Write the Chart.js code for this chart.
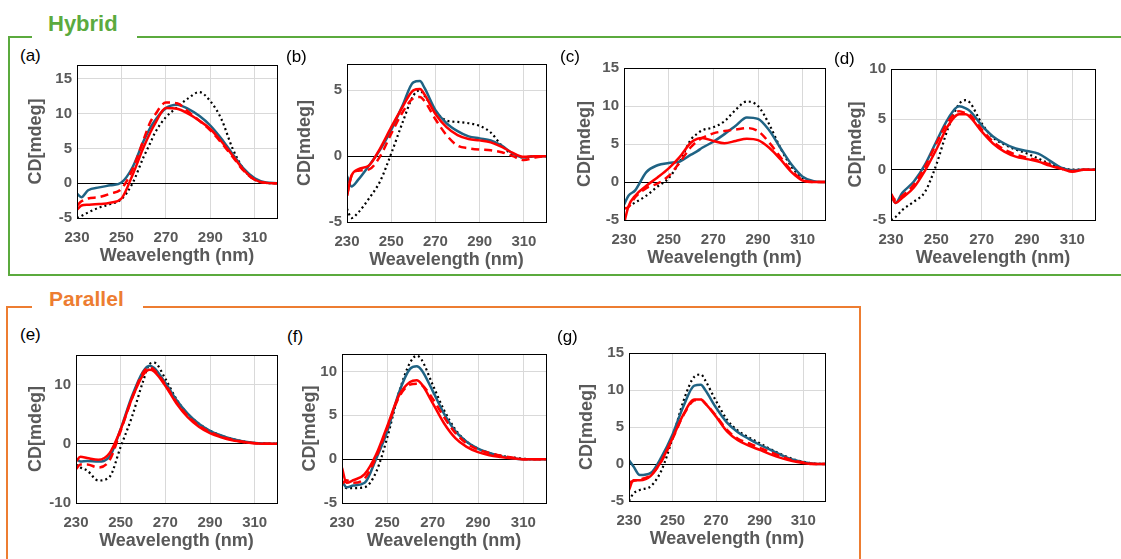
<!DOCTYPE html>
<html><head><meta charset="utf-8">
<script src="https://cdn.jsdelivr.net/npm/chart.js@4/dist/chart.umd.min.js"></script>
<style>
body{margin:0;background:#fff;}
#root{position:relative;width:1121px;height:559px;overflow:hidden;background:#fff;font-family:"Liberation Sans",Arial,sans-serif;}
.ln{position:absolute;}
.grp{position:absolute;font-weight:bold;white-space:nowrap;}
.pl{position:absolute;font-size:17px;line-height:17px;color:#000;white-space:nowrap;}
canvas{position:absolute;}
</style></head>
<body><div id="root"></div>
<script>
const wavelengths = [230,232,235,240,245,250,255,260,263,265,270,275,280,285,290,295,300,305,310,315,320];
const xTicks = [230,250,270,290,310];

const aBlue    = [-1.5,-2.0,-1.0,-0.6,-0.3,0.1,2.3,6.1,8.0,9.0,10.8,11.3,10.7,9.7,8.3,6.4,4.2,2.1,0.7,0.1,0];
const aRed     = [-3.8,-3.2,-3.1,-3.0,-2.8,-2.2,1.2,5.2,7.3,8.5,10.8,10.7,10.0,9.0,7.8,6.0,4.0,1.9,0.5,0.05,0];
const aRedDash = [-3.2,-2.6,-2.2,-2.0,-1.5,-0.8,2.0,6.3,8.8,9.8,11.6,11.5,10.3,9.0,7.6,5.8,3.8,1.8,0.5,0.05,0];
const aBlack   = [-5.0,-4.7,-4.2,-3.5,-3.0,-2.3,0.0,3.8,5.8,7.2,9.5,10.9,12.2,13.1,11.8,9.2,5.0,2.0,0.5,0.05,0];
const aYTicks  = [-5,0,5,10,15];

const bBlue    = [-1.5,-2.3,-1.8,-0.7,0.5,2.0,3.8,5.6,5.7,5.2,3.5,2.5,1.9,1.5,1.35,1.2,0.8,0.2,-0.1,0,0];
const bRed     = [-3.0,-1.5,-1.0,-0.7,0.6,2.2,3.7,5.0,5.1,4.7,3.2,2.2,1.6,1.3,1.2,1.05,0.7,0.25,-0.05,0,0];
const bRedDash = [-3.0,-1.5,-1.1,-1.0,0.0,1.7,3.3,4.4,4.5,4.2,2.8,1.6,0.8,0.6,0.5,0.45,0.3,0.0,-0.3,-0.1,0];
const bBlack   = [-4.0,-4.7,-4.3,-3.2,-1.9,0.2,2.5,4.6,5.0,4.6,3.4,2.7,2.6,2.5,2.3,1.8,0.8,0.1,-0.1,0,0];
const bYTicks  = [-5,0,5];

const cBlue    = [-3.0,-1.8,-1.1,1.3,2.2,2.5,2.7,3.6,4.1,4.5,5.3,6.3,7.4,8.5,8.3,6.8,4.5,2.3,0.7,0.1,0];
const cRed     = [-5.5,-3.2,-1.8,-0.5,0.6,1.8,3.3,5.2,5.7,5.8,5.4,5.1,5.4,5.7,5.5,4.5,3.0,1.3,0.2,0,0];
const cRedDash = [-3.5,-3.3,-2.0,-0.8,-0.2,0.8,2.6,4.6,5.4,5.8,6.4,6.7,6.9,7.1,6.7,5.2,3.3,1.5,0.3,0,0];
const cBlack   = [-3.5,-3.2,-2.7,-1.8,-0.6,0.5,2.7,5.6,6.4,6.8,7.2,8.0,9.5,10.6,10.0,7.6,4.5,2.0,0.5,0,0];
const cYTicks  = [-5,0,5,10,15];

const dBlue    = [-2.5,-3.3,-2.3,-1.2,0.5,2.8,5.0,6.3,6.1,5.8,4.4,3.3,2.6,2.1,1.85,1.6,0.9,0.2,-0.05,0,0];
const dRed     = [-2.5,-3.3,-2.8,-1.8,-0.1,2.0,4.3,5.5,5.5,5.2,3.8,2.6,1.8,1.3,1.05,0.8,0.4,0.1,-0.2,0,0];
const dRedDash = [-2.4,-3.0,-2.6,-1.5,0.3,2.6,4.7,5.8,5.6,5.4,4.0,2.8,2.0,1.5,1.2,0.9,0.5,0.1,-0.15,0,0];
const dBlack   = [-5.0,-4.7,-4.0,-3.2,-2.2,0.5,4.0,6.5,6.9,6.6,4.6,3.2,2.5,2.0,1.6,1.1,0.6,0.2,0,0,0];
const dYTicks  = [-5,0,5,10];

const eBlue    = [-2.5,-3.0,-2.9,-3.0,-2.2,2.5,8.0,12.2,13.2,12.8,10.3,7.4,5.1,3.4,2.2,1.4,0.8,0.4,0.15,0.05,0];
const eRed     = [-3.0,-2.2,-2.4,-2.7,-1.6,2.4,7.6,11.6,12.5,12.2,9.8,6.8,4.5,2.9,1.8,1.1,0.6,0.3,0.1,0,0];
const eRedDash = [-4.3,-3.5,-3.5,-4.0,-2.8,2.2,7.6,12.0,12.9,12.5,10.0,7.0,4.7,3.1,2.0,1.2,0.7,0.3,0.1,0,0];
const eBlack   = [-3.5,-4.0,-4.5,-6.2,-5.6,-0.5,4.5,10.5,13.5,13.7,11.0,7.5,5.0,3.4,2.2,1.4,0.8,0.4,0.15,0.05,0];
const eYTicks  = [-10,0,10];

const fBlue    = [-2.5,-3.2,-3.0,-2.7,0.0,3.2,7.5,10.3,10.6,10.2,7.8,5.2,3.2,2.0,1.2,0.7,0.35,0.1,0,0,0];
const fRed     = [-1.0,-2.7,-2.4,-1.7,0.5,3.8,7.2,8.8,9.0,8.6,6.4,4.1,2.4,1.4,0.8,0.45,0.25,0.1,0,0,0];
const fRedDash = [-2.8,-2.4,-2.7,-2.2,0.2,3.6,7.0,8.5,8.6,8.5,6.9,4.8,3.0,1.8,1.1,0.7,0.4,0.2,0,0,0];
const fBlack   = [-2.8,-3.3,-3.3,-3.2,-1.5,2.5,7.5,11.0,11.8,11.4,8.5,5.6,3.4,2.0,1.2,0.7,0.4,0.2,0.05,0,0];
const fYTicks  = [-5,0,5,10];

const gBlue    = [0.5,-0.3,-1.5,-1.2,1.0,4.0,7.8,10.6,10.7,10.0,7.6,5.6,4.3,3.4,2.6,1.9,1.2,0.6,0.25,0.05,0];
const gRed     = [-3.5,-2.2,-2.2,-1.6,0.5,3.5,6.7,8.7,8.7,8.2,6.4,4.4,3.2,2.5,1.9,1.3,0.8,0.4,0.15,0,0];
const gRedDash = [-2.5,-2.3,-2.1,-1.5,0.4,3.4,6.6,8.6,8.7,8.2,6.5,4.6,3.4,2.8,2.2,1.6,1.0,0.5,0.2,0,0];
const gBlack   = [-5.0,-4.0,-3.5,-3.0,-0.8,3.5,8.5,11.8,12.1,11.3,8.5,6.0,4.5,3.6,2.8,2.0,1.3,0.7,0.3,0.05,0];
const gYTicks  = [-5,0,5,10,15];

const xTitle = 'Weavelength (nm)';
const yTitle = 'CD[mdeg]';

const FONT = '"Liberation Sans", Arial, sans-serif';
const root = document.getElementById('root');

function addDiv(cls, css, text){
  const d = document.createElement('div');
  d.className = cls; Object.assign(d.style, css);
  if (text) d.textContent = text;
  root.appendChild(d); return d;
}
// group frames
const GREEN = '#5BAA3E', ORANGE = '#ED7D31';
addDiv('ln',{left:'8px',top:'36px',width:'24px',height:'2px',background:GREEN});
addDiv('ln',{left:'137px',top:'36px',width:'990px',height:'2px',background:GREEN});
addDiv('ln',{left:'8px',top:'36px',width:'2px',height:'240px',background:GREEN});
addDiv('ln',{left:'8px',top:'274px',width:'1120px',height:'2px',background:GREEN});
addDiv('grp',{left:'48px',top:'13px',fontSize:'22px',lineHeight:'22px',color:GREEN},'Hybrid');

addDiv('ln',{left:'6px',top:'306px',width:'26px',height:'2px',background:ORANGE});
addDiv('ln',{left:'143px',top:'306px',width:'718px',height:'2px',background:ORANGE});
addDiv('ln',{left:'6px',top:'306px',width:'2px',height:'260px',background:ORANGE});
addDiv('ln',{left:'859px',top:'306px',width:'2px',height:'260px',background:ORANGE});
addDiv('grp',{left:'49px',top:'288px',fontSize:'21px',lineHeight:'21px',color:ORANGE},'Parallel');

const frame = {
  id:'frame',
  afterDatasetsDraw(c){
    const a = c.chartArea, ctx = c.ctx;
    ctx.save(); ctx.strokeStyle = '#000'; ctx.lineWidth = 1;
    ctx.strokeRect(Math.round(a.left)+0.5, Math.round(a.top)+0.5, Math.round(a.right-a.left), Math.round(a.bottom-a.top));
    ctx.restore();
  }
};

const panels = [
  {lab:'(a)', lx:20, ly:47,  plot:[77,65,277,218],  yMin:-5,  yMax:17, yTicks:aYTicks, s:[aRed,aRedDash,aBlue,aBlack], yOff:41},
  {lab:'(b)', lx:286,ly:48,  plot:[347,64,546,222], yMin:-5,  yMax:7,  yTicks:bYTicks, s:[bRed,bRedDash,bBlue,bBlack], yOff:42},
  {lab:'(c)', lx:560,ly:48,  plot:[624,68,825,220], yMin:-5,  yMax:15, yTicks:cYTicks, s:[cRed,cRedDash,cBlue,cBlack], yOff:39},
  {lab:'(d)', lx:834,ly:50,  plot:[891,69,1095,220],yMin:-5,  yMax:10, yTicks:dYTicks, s:[dRed,dRedDash,dBlue,dBlack], yOff:35},
  {lab:'(e)', lx:20, ly:326, plot:[76,355,277,503], yMin:-10, yMax:15, yTicks:eYTicks, s:[eRed,eRedDash,eBlue,eBlack], yOff:40},
  {lab:'(f)', lx:287,ly:328, plot:[342,354,546,503],yMin:-5,  yMax:12, yTicks:fYTicks, s:[fRed,fRedDash,fBlue,fBlack], yOff:32},
  {lab:'(g)', lx:557,ly:328, plot:[629,353,825,501],yMin:-5,  yMax:15, yTicks:gYTicks, s:[gRed,gRedDash,gBlue,gBlack], yOff:42}
];

const WY = 64, HX = 52, PT = 14, PR = 10;
const tickFont = {family:FONT, size:15, weight:'bold'};
const titleFont = {family:FONT, size:18, weight:'bold'};

function ds(vals, color, dash, width){
  return {data: wavelengths.map((x,i)=>({x:x, y:vals[i]})), borderColor:color, backgroundColor:color,
    borderDash:dash, borderWidth:width, pointRadius:0, cubicInterpolationMode:'monotone', fill:false};
}

panels.forEach(p=>{
  addDiv('pl',{left:p.lx+'px',top:p.ly+'px'},p.lab);
  const [L,T,R,B] = p.plot;
  const w = R-L+WY+PR, h = B-T+PT+HX;
  const cv = document.createElement('canvas');
  cv.width = w; cv.height = h;
  Object.assign(cv.style,{left:(L-WY)+'px',top:(T-PT)+'px',width:w+'px',height:h+'px'});
  root.appendChild(cv);
  new Chart(cv,{
    type:'line',
    data:{datasets:[
      ds(p.s[0],'#FF0000',[],2.5),
      ds(p.s[1],'#FF0000',[8,5],2.5),
      ds(p.s[2],'#1F6384',[],2.5),
      ds(p.s[3],'#000000',[2,3],2.2)
    ]},
    options:{
      responsive:false, animation:false, devicePixelRatio:1,
      layout:{padding:{left:0,top:PT,right:PR,bottom:0}},
      plugins:{legend:{display:false},tooltip:{enabled:false}},
      scales:{
        x:{type:'linear',min:230,max:320,
          afterBuildTicks:s=>{s.ticks = xTicks.map(v=>({value:v}));},
          afterFit:s=>{s.height = HX;},
          grid:{color:'#d9d9d9',drawTicks:false,lineWidth:1},
          border:{display:false},
          ticks:{padding:11,font:tickFont,color:'#595959',maxRotation:0,autoSkip:false},
          title:{display:true,text:xTitle,font:titleFont,color:'#595959',padding:{top:0,bottom:HX-38-10.8}}
        },
        y:{type:'linear',min:p.yMin,max:p.yMax,
          afterBuildTicks:s=>{s.ticks = p.yTicks.map(v=>({value:v}));},
          afterFit:s=>{s.width = WY;},
          grid:{color:c=>(c.tick && c.tick.value===0)?'#000000':'#d9d9d9',drawTicks:false,lineWidth:1},
          border:{display:false},
          ticks:{padding:5,font:tickFont,color:'#595959'},
          title:{display:true,text:yTitle,font:titleFont,color:'#595959',padding:{top:WY-10.8-p.yOff,bottom:0}}
        }
      }
    },
    plugins:[frame]
  });
});
</script>
</body></html>
